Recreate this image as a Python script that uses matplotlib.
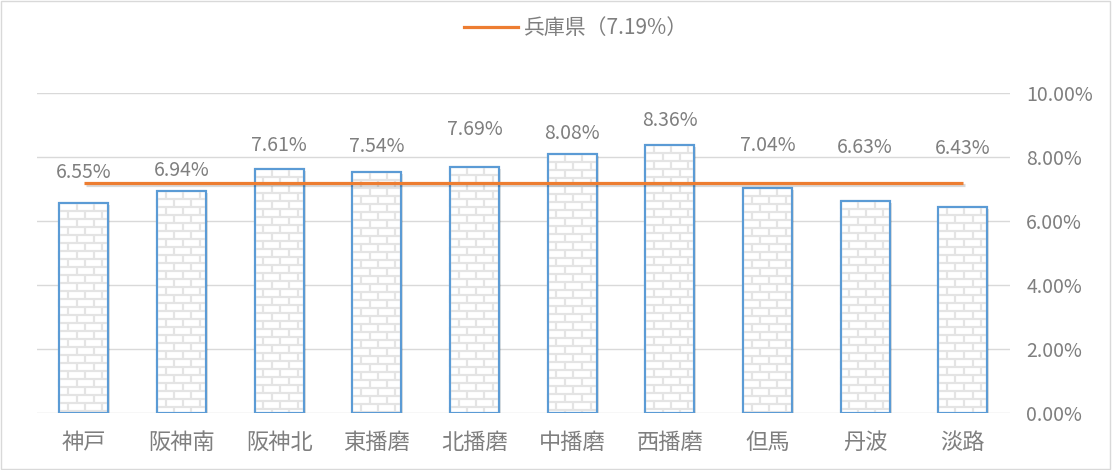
import numpy as np
import matplotlib
matplotlib.use('Agg')
import matplotlib.pyplot as plt
from matplotlib.collections import LineCollection
from matplotlib.lines import Line2D
from matplotlib.patches import Rectangle
import matplotlib.patheffects as pe

plt.rcParams['font.family'] = ['Noto Sans CJK JP', 'DejaVu Sans']

regions = ['神戸', '阪神南', '阪神北', '東播磨', '北播磨', '中播磨', '西播磨', '但馬', '丹波', '淡路']
rates = [6.55, 6.94, 7.61, 7.54, 7.69, 8.08, 8.36, 7.04, 6.63, 6.43]
pref_name = '兵庫県'
pref_rate = 7.19

# hand-placed label heights above each bar (points)
label_lift = [14.7, 6.8, 10.0, 10.9, 19.0, 7.5, 10.7, 22.6, 30.5, 34.8]

TEXT = '#7f7f7f'
GRID = '#d9d9d9'
EDGE = '#5b9bd5'
ORANGE = '#ed7d31'
MORTAR = '#e4e4e4'
ROW = 0.25      # brick row height (y units)
BRICK = 0.175   # brick length (x units)

fig = plt.figure(figsize=(11.12, 4.70), dpi=100)
ax = fig.add_axes([0.0333, 0.1213, 0.8747, 0.681])

x = np.arange(len(regions))
shadow = [pe.SimplePatchShadow(offset=(1.5, -1.5), shadow_rgbFace='#000000', alpha=0.12), pe.Normal()]
bars = ax.bar(x, rates, width=0.5, facecolor='white', edgecolor=EDGE, linewidth=1.5, zorder=2,
              path_effects=shadow)

# brick texture inside each bar
for rect in bars:
    x0, w, h = rect.get_x(), rect.get_width(), rect.get_height()
    ys = np.arange(h, 0, -ROW)[::-1]
    segs = [((x0, y), (x0 + w, y)) for y in ys]
    for i, y in enumerate(ys):
        off = (i % 2) * BRICK / 2
        for xv in np.arange(x0 + off, x0 + w, BRICK):
            segs.append(((xv, y - ROW), (xv, y)))
    lc = LineCollection(segs, colors=MORTAR, linewidths=1.6, zorder=2.1)
    lc.set_clip_path(rect)
    ax.add_collection(lc)
    # redraw the outline above the texture
    ax.add_patch(Rectangle((x0, 0), w, h, fill=False, edgecolor=EDGE, linewidth=1.5, zorder=2.2))

for xi, v, lift in zip(x, rates, label_lift):
    ax.annotate(f'{v:.2f}%', (xi, v), xytext=(0, lift), textcoords='offset points',
                ha='center', va='bottom', fontsize=14, color=TEXT)

line_shadow = [pe.SimpleLineShadow(offset=(1.5, -1.5), shadow_color='#000000', alpha=0.15), pe.Normal()]
ax.plot(x, [pref_rate] * len(x), color=ORANGE, linewidth=2.3, zorder=3,
        solid_capstyle='butt', path_effects=line_shadow)

ax.set_xlim(-0.48, len(regions) - 0.52)
ax.set_ylim(0, 10)
ax.set_yticks(np.arange(0, 10.01, 2))
ax.set_yticklabels([f'{t:.2f}%' for t in np.arange(0, 10.01, 2)])
ax.yaxis.tick_right()
ax.set_xticks(x)
ax.set_xticklabels(regions)
ax.tick_params(axis='both', length=0, labelsize=16, colors=TEXT)
ax.tick_params(axis='y', labelsize=14, pad=12)
ax.tick_params(axis='x', pad=13)
ax.grid(axis='y', color=GRID, linewidth=1)
ax.set_axisbelow(True)
for s in ax.spines.values():
    s.set_visible(False)

handle = Line2D([], [], color=ORANGE, linewidth=2.3)
fig.legend([handle], [f'{pref_name}（{pref_rate:.2f}%）'], loc='center',
           bbox_to_anchor=(0.518, 0.94), frameon=False, fontsize=15,
           labelcolor=TEXT, handlelength=2.6, handletextpad=0.3)

fig.patches.append(Rectangle((0.001, 0.002), 0.997, 0.995, transform=fig.transFigure,
                             fill=False, edgecolor=GRID, linewidth=1))

fig.savefig('out.png', dpi=100)
